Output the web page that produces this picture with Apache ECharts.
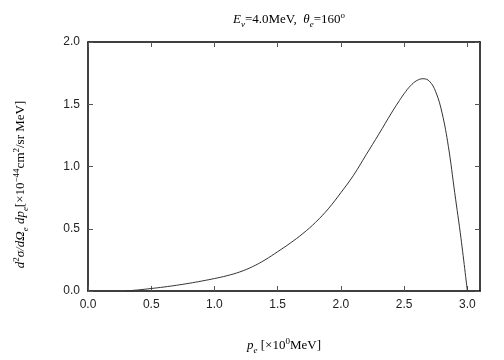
<!DOCTYPE html>
<html>
<head>
<meta charset="utf-8">
<script src="https://cdn.jsdelivr.net/npm/echarts@6/dist/echarts.min.js"></script>
<style>html,body{margin:0;padding:0;background:#fff}#c{width:504px;height:360px}</style>
</head>
<body>
<div id="c"></div>
<script>
const xValues = [0.3,0.4,0.5,0.6,0.7,0.8,0.9,1.0,1.1,1.2,1.3,1.4,1.5,1.6,1.7,1.8,1.9,2.0,2.1,2.2,2.3,2.4,2.45,2.5,2.55,2.6,2.65,2.7,2.75,2.8,2.85,2.9,2.95,3.0];
const yValues = [0.0,0.009,0.02,0.032,0.046,0.062,0.08,0.10,0.123,0.153,0.195,0.25,0.316,0.385,0.462,0.552,0.66,0.79,0.93,1.095,1.26,1.43,1.51,1.585,1.648,1.69,1.705,1.685,1.6,1.43,1.16,0.79,0.42,0.0];
const xTicks = [0,0.5,1.0,1.5,2.0,2.5,3.0];
const yTicks = [0,0.5,1.0,1.5,2.0];

const data = xValues.map((x,i)=>[x,yValues[i]]);
const serif = 'Liberation Serif';
const rich = {
  n:{fontFamily:serif,fontSize:13,fontWeight:'normal',color:'#000',lineHeight:18},
  i:{fontFamily:serif,fontSize:13,fontWeight:'normal',fontStyle:'italic',color:'#000',lineHeight:18},
  sup:{fontFamily:serif,fontSize:9,fontWeight:'normal',color:'#000',verticalAlign:'top',lineHeight:18},
  sub:{fontFamily:serif,fontSize:9,fontWeight:'normal',fontStyle:'italic',color:'#000',verticalAlign:'bottom',lineHeight:18}
};
const tickLabel = {fontFamily:'Liberation Sans',fontSize:12,color:'#222',formatter:v=>v.toFixed(1)};
const frameLine = {show:true,onZero:false,lineStyle:{color:'#000',width:1.5}};
const tick = {show:true,inside:true,length:5,lineStyle:{color:'#555'}};
const chart = echarts.init(document.getElementById('c'),null,{renderer:'canvas'});
chart.setOption({
  animation:false,
  title:{
    text:'{i|E}{sub|ν}{n|=4.0MeV,  }{i|θ}{sub|e}{n|=160}{sup|o}',
    left:284, top:6, textAlign:'center',
    textStyle:{fontWeight:'normal',rich:rich}
  },
  grid:{left:88,right:24,top:42,bottom:56},
  xAxis:[{
    type:'value',min:0,max:3.1,position:'bottom',
    name:'{i|p}{sub|e}{n| [×10}{sup|0}{n|MeV]}',
    nameLocation:'middle',nameGap:46,
    nameTextStyle:{rich:rich},
    axisLine:frameLine,
    axisTick:Object.assign({customValues:xTicks},tick),
    axisLabel:Object.assign({customValues:xTicks,margin:8},tickLabel),
    splitLine:{show:false}
  },{
    type:'value',min:0,max:3.1,position:'top',
    axisLine:frameLine,
    axisTick:Object.assign({customValues:xTicks},tick),
    axisLabel:{show:false},
    splitLine:{show:false}
  }],
  yAxis:[{
    type:'value',min:0,max:2,interval:0.5,position:'left',
    name:'{i|d}{sup|2}{i|σ/dΩ}{sub|e}{i| dp}{sub|e}{n|[×10}{sup|−44}{n|cm}{sup|2}{n|/sr MeV]}',
    nameLocation:'middle',nameGap:58,nameRotate:90,
    nameTextStyle:{rich:rich,padding:[0,36,0,0]},
    axisLine:frameLine,
    axisTick:tick,
    axisLabel:Object.assign({margin:8},tickLabel),
    splitLine:{show:false}
  },{
    type:'value',min:0,max:2,interval:0.5,position:'right',
    axisLine:frameLine,
    axisTick:tick,
    axisLabel:{show:false},
    splitLine:{show:false}
  }],
  series:[{
    type:'line',data:data,smooth:0.4,showSymbol:false,
    lineStyle:{color:'#333',width:1},
    xAxisIndex:0,yAxisIndex:0
  }]
});
</script>
</body>
</html>
